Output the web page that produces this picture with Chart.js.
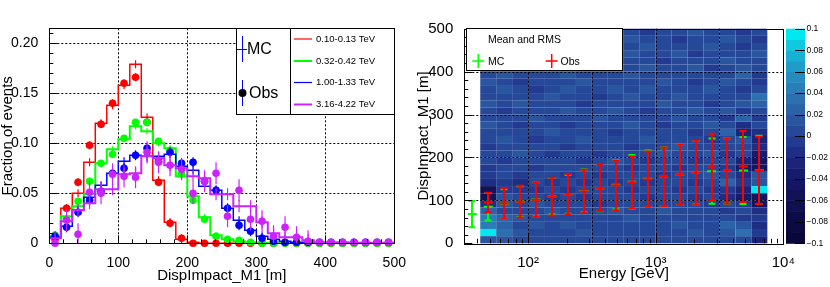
<!DOCTYPE html>
<html lang="en">
<head>
<meta charset="UTF-8">
<title>DispImpact_M1</title>
<script src="https://cdn.jsdelivr.net/npm/chart.js"></script>
<style>
  body { margin: 0; background: #fff; }
  canvas { position: absolute; top: 0; }
  #histChart { left: 0; }
  #profChart { left: 415px; }
</style>
</head>
<body>
<canvas id="histChart" width="415" height="287"></canvas>
<canvas id="profChart" width="415" height="287"></canvas>
<script>
// ---------- left pad: DispImpact_M1 distributions, 30 bins from 0 to 500 m
const dispMin = 0, dispMax = 500, dispBins = 30;
const energyBins = ['0.10-0.13 TeV', '0.32-0.42 TeV', '1.00-1.33 TeV', '3.16-4.22 TeV'];
const seriesColors = ['#ff0000', '#00ff00', '#0000ff', '#cc22ff'];

const mcRed = [0.006, 0.035, 0.050, 0.081, 0.120, 0.138, 0.158, 0.179, 0.126, 0.063, 0.021, 0.004, 0.001, 0, 0,
  0, 0, 0, 0, 0, 0, 0, 0, 0, 0, 0, 0, 0, 0, 0];
const obsRed = [0.004, 0.035, 0.061, 0.098, 0.119, 0.140, 0.160, 0.166, 0.121, 0.061, 0.020, 0.005, 0, 0, 0,
  0, 0, 0, 0, 0, 0, 0, 0, 0, 0, 0, 0, 0, 0, 0];
const mcGreen = [0.007, 0.027, 0.037, 0.049, 0.080, 0.094, 0.104, 0.117, 0.112, 0.100, 0.095, 0.067, 0.047, 0.026, 0.008,
  0.004, 0.002, 0.001, 0.0005, 0, 0, 0, 0, 0, 0, 0, 0, 0, 0, 0];
const obsGreen = [0.008, 0.024, 0.042, 0.062, 0.080, 0.089, 0.105, 0.121, 0.121, 0.102, 0.093, 0.069, 0.043, 0.024, 0.007,
  0.004, 0.003, 0.001, 0, 0, 0, 0, 0, 0, 0, 0, 0, 0, 0, 0];
const mcBlue = [0.006, 0.017, 0.033, 0.046, 0.058, 0.070, 0.082, 0.088, 0.087, 0.087, 0.089, 0.077, 0.073, 0.057, 0.053,
  0.035, 0.023, 0.013, 0.007, 0.004, 0.002, 0.001, 0.001, 0.0005, 0.0005, 0, 0, 0, 0, 0];
const obsBlue = [0.007, 0.016, 0.031, 0.043, 0.052, 0.070, 0.075, 0.088, 0.095, 0.082, 0.091, 0.080, 0.081, 0.062, 0.053,
  0.035, 0.018, 0.012, 0.005, 0.002, 0.001, 0.001, 0.001, 0.001, 0.001, 0.001, 0.001, 0.001, 0.001, 0.001];
const mcViolet = [0.005, 0.022, 0.033, 0.040, 0.054, 0.054, 0.069, 0.070, 0.087, 0.085, 0.078, 0.075, 0.067, 0.065, 0.049,
  0.049, 0.037, 0.037, 0.021, 0.010, 0.006, 0.006, 0.003, 0.001, 0.001, 0.001, 0.0005, 0.0005, 0.0005, 0.0005];
const obsViolet = [0, 0.023, 0.009, 0.051, 0.050, 0.069, 0.067, 0.066, 0.091, 0.081, 0.078, 0.074, 0.050, 0.062, 0.070,
  0.027, 0.053, 0.024, 0.022, 0.007, 0.016, 0.006, 0.002, 0.001, 0.001, 0.001, 0.001, 0.001, 0.001, 0.001];

// rough half length of the error bars of each energy bin
const mcErr = [0.004, 0.003, 0.004, 0.006];
const obsErr = [0.004, 0.003, 0.005, 0.011];

const histXTicks = [0, 100, 200, 300, 400, 500];
const histYTicks = [0, 0.05, 0.1, 0.15, 0.2];
const histYMax = 0.215;

// ---------- right pad: DispImpact_M1 vs energy
const eLogMin = 1.5, eLogMax = 4;
const cellLog0 = 1.625, cellLogStep = 0.125;     // 18 energy columns
const profXTicks = [100, 1000, 10000];
const profXLabels = ['10\u00b2', '10\u00b3', '10\u2074'];
const profYTicks = [0, 100, 200, 300, 400, 500];
const profGridX = [100, 316.2, 1000, 3162];
const profGridY = [100, 200, 300, 400];

const obsMean = [95, 93, 97, 101.5, 109, 114.5, 121, 129, 135, 142, 149.5, 155, 159.5, 164.5, 177, 169, 179, 170];
const obsRms = [22.5, 35, 37, 39, 44, 47, 50.5, 53.5, 58, 60.5, 64.5, 68, 70.5, 74.5, 78.5, 76, 82.5, 78.5];
// MC starts one column lower than Obs
const mcMean = [68, 85, 92, 97, 102, 109.5, 114.5, 122, 128.5, 136.5, 143.5, 150.5, 155, 160, 164.5, 168, 169, 169.5, 171];
const mcRms = [30.5, 32, 34, 36, 39, 42.5, 45.5, 50, 54, 57.5, 62.5, 66, 68, 71, 74, 76, 76, 78, 79.5];

// colz cells, x100, rows from 500 m down to 0 m (16.7 m each)
const diffRows = [
  [0, 1, 0, 1, 0, 0, 1, 0, 0, 0, -1, 0, 0, 1, 0, 0, -1, 0],
  [1, 0, 0, 0, 1, 0, 0, 1, 0, 1, 0, 0, -1, 0, 0, 1, 0, -1],
  [0, 0, 1, 0, 0, 1, 0, 0, 1, 0, 1, 0, 0, 0, 1, 0, -1, 0],
  [0, 1, 0, 0, 0, 0, 1, 0, 0, 1, 0, 0, 1, -1, 0, 0, 0, 1],
  [1, 0, 0, 1, 0, 0, 0, 1, 0, 0, 0, -1, 0, 0, 0, 1, 0, 0],
  [0, 0, 1, 0, 1, 0, 0, 0, 1, 0, 1, 0, 0, 1, -1, 0, 1, 0],
  [0, 1, 0, 0, 0, 1, 0, 0, 0, 1, 0, 0, 0, 0, 0, 0, 2, -1],
  [1, 0, -1, 0, 0, 0, 1, 0, 0, 0, 0, 1, 0, -1, 0, 1, 0, -1],
  [0, 1, 0, -1, 0, 1, 0, 0, 1, 0, 1, 0, 0, 0, 1, 0, -1, 0],
  [0, 0, 0, 0, 1, 0, 0, -1, 0, 1, 0, 0, 1, 0, 0, 0, 0, 3],
  [1, 0, 1, 0, 0, 0, -1, 0, 0, 0, 0, 1, 0, 0, -1, 0, 1, 2],
  [0, -1, 0, 0, 0, 1, 0, 0, 1, 0, -1, 0, 0, 1, 0, 1, -1, 0],
  [0, 0, 0, 1, 0, 0, 0, 1, 0, 0, 0, 0, 1, 0, 0, -1, 2, -1],
  [1, 0, -1, 0, 0, -1, 0, 0, 0, 1, 0, -1, 0, 0, 1, 0, -2, 0],
  [0, 0, 0, 0, 1, 0, 0, 0, -1, 0, 0, 0, 0, -1, 0, 2, -3, -2],
  [0, 1, 0, -1, 0, 0, 1, 0, 0, 0, 1, 0, 0, 0, -1, 0, 1, -3],
  [-1, 0, 0, 0, 0, -1, 0, 0, 0, -1, 0, 0, 1, 0, 0, 0, 0, -2],
  [0, 0, 1, 0, -1, 0, 0, -1, 0, 0, 0, 1, 0, 0, 1, -1, 0, -4],
  [0, -1, 0, 0, 0, 0, -1, 0, 1, 0, -1, 0, 0, -1, 0, 0, -3, -5],
  [-1, 0, 0, -1, 0, 0, 0, 0, 0, -1, 0, 0, -1, 0, 0, -1, -4, -5],
  [-1, 0, -1, 0, 0, -1, 0, -1, 0, 0, 0, -1, 0, 0, 1, 0, -2, 1],
  [-2, -1, -2, 0, -1, 0, -1, 0, -1, 0, -1, 0, 0, -1, 0, 2, -1, 1],
  [-6, -1, -1, -1, 0, -1, 0, 0, 0, -1, 0, 0, -1, 0, -1, -1, -3, 9],
  [-6, 1, 0, 0, -1, 0, -1, 0, 0, 0, -1, 0, 0, -1, 0, -2, -4, -5],
  [-2, 1, 0, 1, 0, 0, 0, -1, 0, 0, 0, 0, 0, 0, -1, 0, -1, -5],
  [2, 0, 0, 0, 1, 0, 0, 0, 1, 0, 0, 1, 0, 0, 0, -1, 0, -2],
  [4, 2, 1, 0, 0, 0, 0, 0, 0, 1, 0, 0, 0, 0, 0, 0, -1, -1],
  [4, 2, 0, 1, 0, 1, 0, 0, 0, 0, 0, 0, 1, 0, 0, 2, 1, -2],
  [9, 3, 1, 0, 0, 0, 1, 0, 0, 0, 0, 0, 0, 1, 0, 1, 3, -1],
  [1, 1, 0, 0, 0, 0, 0, 0, 0, 0, 0, 0, 0, 0, 0, 0, 0, -3]
];

const cbTicks = [-0.1, -0.08, -0.06, -0.04, -0.02, 0, 0.02, 0.04, 0.06, 0.08, 0.1];
const cbLabels = ['\u22120.1', '\u22120.08', '\u22120.06', '\u22120.04', '\u22120.02', '0', '0.02', '0.04', '0.06', '0.08', '0.1'];
const palette = ['#0a0838', '#0c0a40', '#0e0c48', '#100f50', '#121258', '#141662', '#161c6c', '#1a2478', '#1e2e84', '#223a90',
  '#264898', '#2a56a0', '#2c62a8', '#2c70b0', '#2a7eb8', '#268cc0', '#209cc8', '#18b0d4', '#10c8e0', '#00e8f0'];

const FONT = "'Liberation Sans', Arial, sans-serif";

function levelColor(v) {
  let i = Math.floor((v + 0.1) / 0.01 + 1e-6);
  return palette[Math.max(0, Math.min(19, i))];
}

function drawErrorBars(chart, args) {
  const ds = chart.data.datasets[args.index];
  if (!ds.errs) return;
  const {ctx, chartArea: a, scales: {x, y}} = chart;
  ctx.save();
  ctx.strokeStyle = ds.errColor;
  ctx.lineWidth = ds.errWidth;
  ctx.beginPath();
  ds.errs.forEach(p => {
    if (p.e <= 0) return;
    let px = x.getPixelForValue(p.x);
    if (ds.errSnap) px = Math.round(px);
    const lo = Math.min(a.bottom, y.getPixelForValue(p.y - p.e));
    const hi = y.getPixelForValue(p.y + p.e);
    ctx.moveTo(px, lo); ctx.lineTo(px, hi);
    if (ds.errCap) {
      ctx.moveTo(px - ds.errCap, lo); ctx.lineTo(px + ds.errCap, lo);
      ctx.moveTo(px - ds.errCap, hi); ctx.lineTo(px + ds.errCap, hi);
    }
  });
  ctx.stroke();
  ctx.restore();
}

function dottedGrid(chart, xs, ys) {
  const {ctx, chartArea: a, scales: {x, y}} = chart;
  ctx.save();
  ctx.strokeStyle = '#000';
  ctx.lineWidth = 1;
  ctx.setLineDash([2, 2]);
  ctx.beginPath();
  xs.forEach(v => { const p = Math.round(x.getPixelForValue(v)) + 0.5; ctx.moveTo(p, a.top); ctx.lineTo(p, a.bottom); });
  ys.forEach(v => { const p = Math.round(y.getPixelForValue(v)) + 0.5; ctx.moveTo(a.left, p); ctx.lineTo(a.right, p); });
  ctx.stroke();
  ctx.restore();
}

// frame plus ROOT style ticks pointing into the pad
function frameAndTicks(chart, xTicks, yTicks) {
  const {ctx, chartArea: a, scales: {x, y}} = chart;
  ctx.save();
  ctx.strokeStyle = '#000';
  ctx.lineWidth = 1;
  ctx.beginPath();
  xTicks.forEach(([v, len]) => { const p = Math.round(x.getPixelForValue(v)) + 0.5; ctx.moveTo(p, a.bottom); ctx.lineTo(p, a.bottom - len); });
  yTicks.forEach(([v, len]) => { const p = Math.round(y.getPixelForValue(v)) + 0.5; ctx.moveTo(a.left, p); ctx.lineTo(a.left + len, p); });
  ctx.stroke();
  ctx.strokeRect(Math.round(a.left) + 0.5, Math.round(a.top) + 0.5, Math.round(a.right - a.left), Math.round(a.bottom - a.top));
  ctx.restore();
}

function linearTicks(lo, hi, major, minor) {
  const out = [];
  for (let v = lo; v <= hi + 1e-9; v += minor) {
    const m = Math.abs(v / major - Math.round(v / major)) < 1e-6;
    out.push([v, m ? 8 : 4]);
  }
  return out;
}

// ---------- left chart
const binW = (dispMax - dispMin) / dispBins;
const mcSets = [mcRed, mcGreen, mcBlue, mcViolet];
const obsSets = [obsRed, obsGreen, obsBlue, obsViolet];
const histDatasets = [];
mcSets.forEach((mc, k) => {
  const steps = mc.map((v, i) => ({x: dispMin + i * binW, y: v}));
  steps.push({x: dispMax, y: mc[mc.length - 1]});
  histDatasets.push({
    type: 'scatter', showLine: true, stepped: 'before', data: steps,
    borderColor: seriesColors[k], borderWidth: k % 2 ? 2 : 1.5, pointRadius: 0,
    errs: mc.map((v, i) => ({x: dispMin + (i + 0.5) * binW, y: v, e: v > 0.0015 ? mcErr[k] : 0})),
    errColor: seriesColors[k], errWidth: 1.2
  });
  const obs = obsSets[k];
  histDatasets.push({
    type: 'scatter', data: obs.map((v, i) => ({x: dispMin + (i + 0.5) * binW, y: v})),
    backgroundColor: seriesColors[k], borderWidth: 0, pointRadius: 3.8, clip: false,
    errs: obs.map((v, i) => ({x: dispMin + (i + 0.5) * binW, y: v, e: v > 0.0015 ? obsErr[k] : 0})),
    errColor: seriesColors[k], errWidth: 1.2
  });
});
histDatasets.reverse();   // first dataset is drawn last

function drawHistLegend(ctx) {
  ctx.save();
  ctx.fillStyle = '#fff';
  ctx.strokeStyle = '#000';
  ctx.lineWidth = 1;
  [[236.5, 28.5, 54, 86], [290.5, 28.5, 104, 86]].forEach(([x, y, w, h]) => {
    ctx.fillRect(x, y, w, h); ctx.strokeRect(x, y, w, h);
  });
  ctx.strokeStyle = '#0000ff';
  ctx.beginPath();
  ctx.moveTo(242.5, 36); ctx.lineTo(242.5, 62);
  ctx.moveTo(237, 49.5); ctx.lineTo(247, 49.5);
  ctx.moveTo(242.5, 80); ctx.lineTo(242.5, 106);
  ctx.stroke();
  ctx.fillStyle = '#000';
  ctx.beginPath(); ctx.arc(242.5, 93, 4, 0, 2 * Math.PI); ctx.fill();
  ctx.font = '16px ' + FONT;
  ctx.textBaseline = 'middle';
  ctx.fillText('MC', 247, 50);
  ctx.fillText('Obs', 249, 94);
  const rows = [39, 61, 82.5, 104.5];
  ctx.font = '9.5px ' + FONT;
  energyBins.forEach((lab, i) => {
    ctx.strokeStyle = seriesColors[i];
    ctx.lineWidth = i % 2 ? 2 : 1.2;
    ctx.beginPath(); ctx.moveTo(294, rows[i]); ctx.lineTo(312, rows[i]); ctx.stroke();
    ctx.fillText(lab, 316, rows[i]);
  });
  ctx.restore();
}

const histPad = {
  id: 'histPad',
  beforeDatasetsDraw(chart) { dottedGrid(chart, histXTicks.slice(1, -1), histYTicks.slice(1)); },
  beforeDatasetDraw(chart, args) { drawErrorBars(chart, args); },
  afterDraw(chart) {
    frameAndTicks(chart, linearTicks(0, 500, 100, 20), linearTicks(0, 0.21, 0.05, 0.01));
    drawHistLegend(chart.ctx);
  }
};

new Chart(document.getElementById('histChart'), {
  type: 'scatter',
  data: {datasets: histDatasets},
  plugins: [histPad],
  options: {
    responsive: false, animation: false, devicePixelRatio: 1,
    layout: {padding: {top: 28.3, right: 20.7, left: 0, bottom: 0}},
    plugins: {legend: {display: false}, tooltip: {enabled: false}},
    scales: {
      x: {
        type: 'linear', min: dispMin, max: dispMax,
        grid: {display: false}, border: {display: false},
        afterBuildTicks: s => { s.ticks = histXTicks.map(v => ({value: v})); },
        afterFit: s => { s.height = 43.7; },
        ticks: {font: {family: FONT, size: 14}, color: '#000', padding: 3, maxRotation: 0, autoSkip: false},
        title: {display: true, text: 'DispImpact_M1 [m]', font: {family: FONT, size: 15}, color: '#000', padding: {top: 0, bottom: 2}}
      },
      y: {
        min: 0, max: histYMax,
        grid: {display: false}, border: {display: false},
        afterBuildTicks: s => { s.ticks = histYTicks.map(v => ({value: v})); },
        afterFit: s => { s.width = 49.3; },
        ticks: {font: {family: FONT, size: 14}, color: '#000', padding: 3},
        title: {display: true, text: 'Fraction of events', font: {family: FONT, size: 15}, color: '#000', padding: {top: -1, bottom: 0}}
      }
    }
  }
});

// ---------- right chart
const colCenter = c => Math.pow(10, cellLog0 + (c + 0.5) * cellLogStep);
const mcPoints = mcMean.map((m, i) => ({x: colCenter(i - 1), y: m}));
const obsPoints = obsMean.map((m, i) => ({x: colCenter(i), y: m}));

function drawProfLegend(ctx) {
  ctx.save();
  ctx.fillStyle = '#fff';
  ctx.strokeStyle = '#000';
  ctx.lineWidth = 1;
  ctx.fillRect(51.5, 28.5, 156, 42);
  ctx.strokeRect(51.5, 28.5, 156, 42);
  ctx.fillStyle = '#000';
  ctx.font = '10.5px ' + FONT;
  ctx.textBaseline = 'middle';
  ctx.fillText('Mean and RMS', 73, 40.5);
  ctx.lineWidth = 1.5;
  [[63.3, '#00ff00', 'MC', 73], [136.7, '#ff0000', 'Obs', 145.5]].forEach(([cx, col, lab, tx]) => {
    ctx.strokeStyle = col;
    ctx.beginPath();
    ctx.moveTo(cx, 54); ctx.lineTo(cx, 68);
    ctx.moveTo(cx - 6, 61); ctx.lineTo(cx + 6, 61);
    ctx.stroke();
    ctx.fillText(lab, tx, 62);
  });
  ctx.restore();
}

function drawColorBar(chart) {
  const {ctx} = chart;
  const cb = chart.scales.cb;
  const x0 = 371, x1 = 390;
  ctx.save();
  palette.forEach((col, i) => {
    const lo = cb.getPixelForValue(-0.1 + i * 0.01), hi = cb.getPixelForValue(-0.1 + (i + 1) * 0.01);
    ctx.fillStyle = col;
    ctx.fillRect(x0, hi, x1 - x0, lo - hi + 0.5);
  });
  ctx.strokeStyle = '#000';
  ctx.lineWidth = 1;
  ctx.beginPath();
  cbTicks.forEach(v => { const p = Math.round(cb.getPixelForValue(v)) + 0.5; ctx.moveTo(x1, p); ctx.lineTo(x1 - 10, p); });
  ctx.stroke();
  ctx.fillStyle = '#000';
  ctx.font = '8.5px ' + FONT;
  ctx.textBaseline = 'middle';
  cbTicks.forEach((v, i) => ctx.fillText(cbLabels[i], 391.5, cb.getPixelForValue(v)));
  ctx.restore();
}

function logTicks() {
  const out = [];
  for (let d = 1; d <= 3; d++) {
    for (let m = 1; m <= 9; m++) {
      const v = m * Math.pow(10, d);
      if (v >= Math.pow(10, eLogMin) && v <= Math.pow(10, eLogMax)) out.push([v, m === 1 ? 9 : 4.5]);
    }
  }
  out.push([10000, 9]);
  return out;
}

const profPad = {
  id: 'profPad',
  beforeDatasetsDraw(chart) {
    const {ctx, scales: {x, y}} = chart;
    const step = (dispMax - dispMin) / dispBins;
    ctx.save();
    diffRows.forEach((row, ri) => {
      const r = dispBins - 1 - ri;
      const yTop = y.getPixelForValue(dispMin + (r + 1) * step), yBot = y.getPixelForValue(dispMin + r * step);
      row.forEach((v, c) => {
        const xl = x.getPixelForValue(Math.pow(10, cellLog0 + c * cellLogStep));
        const xr = x.getPixelForValue(Math.pow(10, cellLog0 + (c + 1) * cellLogStep));
        ctx.fillStyle = levelColor(v / 100);
        ctx.fillRect(xl, yTop, xr - xl, yBot - yTop);
      });
    });
    ctx.restore();
    dottedGrid(chart, profGridX, profGridY);
  },
  beforeDatasetDraw(chart, args) { drawErrorBars(chart, args); },
  afterDraw(chart) {
    frameAndTicks(chart, logTicks(), linearTicks(0, 500, 100, 20));
    drawProfLegend(chart.ctx);
    drawColorBar(chart);
  }
};

new Chart(document.getElementById('profChart'), {
  type: 'scatter',
  data: {
    datasets: [
      {
        label: 'Obs', data: obsPoints, pointStyle: 'line', pointRadius: 4.5, borderColor: '#ff0000', borderWidth: 2,
        errs: obsMean.map((m, i) => ({x: colCenter(i), y: m, e: obsRms[i]})),
        errColor: '#ff0000', errWidth: 2, errCap: 3.5, errSnap: true
      },
      {
        label: 'MC', data: mcPoints, pointStyle: 'line', pointRadius: 4.5, borderColor: '#00ff00', borderWidth: 2,
        errs: mcMean.map((m, i) => ({x: colCenter(i - 1), y: m, e: mcRms[i]})),
        errColor: '#00ff00', errWidth: 2, errCap: 3.5, errSnap: true
      }
    ]
  },
  plugins: [profPad],
  options: {
    responsive: false, animation: false, devicePixelRatio: 1,
    layout: {padding: {top: 28.7, right: 0, left: 0, bottom: 0}},
    plugins: {legend: {display: false}, tooltip: {enabled: false}},
    scales: {
      x: {
        type: 'logarithmic', min: Math.pow(10, eLogMin), max: Math.pow(10, eLogMax),
        grid: {display: false}, border: {display: false},
        afterBuildTicks: s => { s.ticks = profXTicks.map(v => ({value: v})); },
        afterFit: s => { s.height = 43.7; },
        ticks: {
          font: {family: FONT, size: 15}, color: '#000', padding: 3, maxRotation: 0, autoSkip: false,
          callback: v => profXLabels[profXTicks.indexOf(v)]
        },
        title: {display: true, text: 'Energy [GeV]', font: {family: FONT, size: 15}, color: '#000', padding: {top: 0, bottom: 4}}
      },
      y: {
        position: 'left', min: 0, max: 500,
        grid: {display: false}, border: {display: false},
        afterBuildTicks: s => { s.ticks = profYTicks.map(v => ({value: v})); },
        afterFit: s => { s.width = 49.3; },
        ticks: {font: {family: FONT, size: 15}, color: '#000', padding: 3},
        title: {display: true, text: 'DispImpact_M1 [m]', font: {family: FONT, size: 15}, color: '#000', padding: {top: 0, bottom: 0}}
      },
      cb: {
        type: 'linear', position: 'right', min: -0.1, max: 0.1,
        grid: {display: false}, border: {display: false},
        afterFit: s => { s.width = 46.7; },
        ticks: {display: false}
      }
    }
  }
});
</script>
</body>
</html>
